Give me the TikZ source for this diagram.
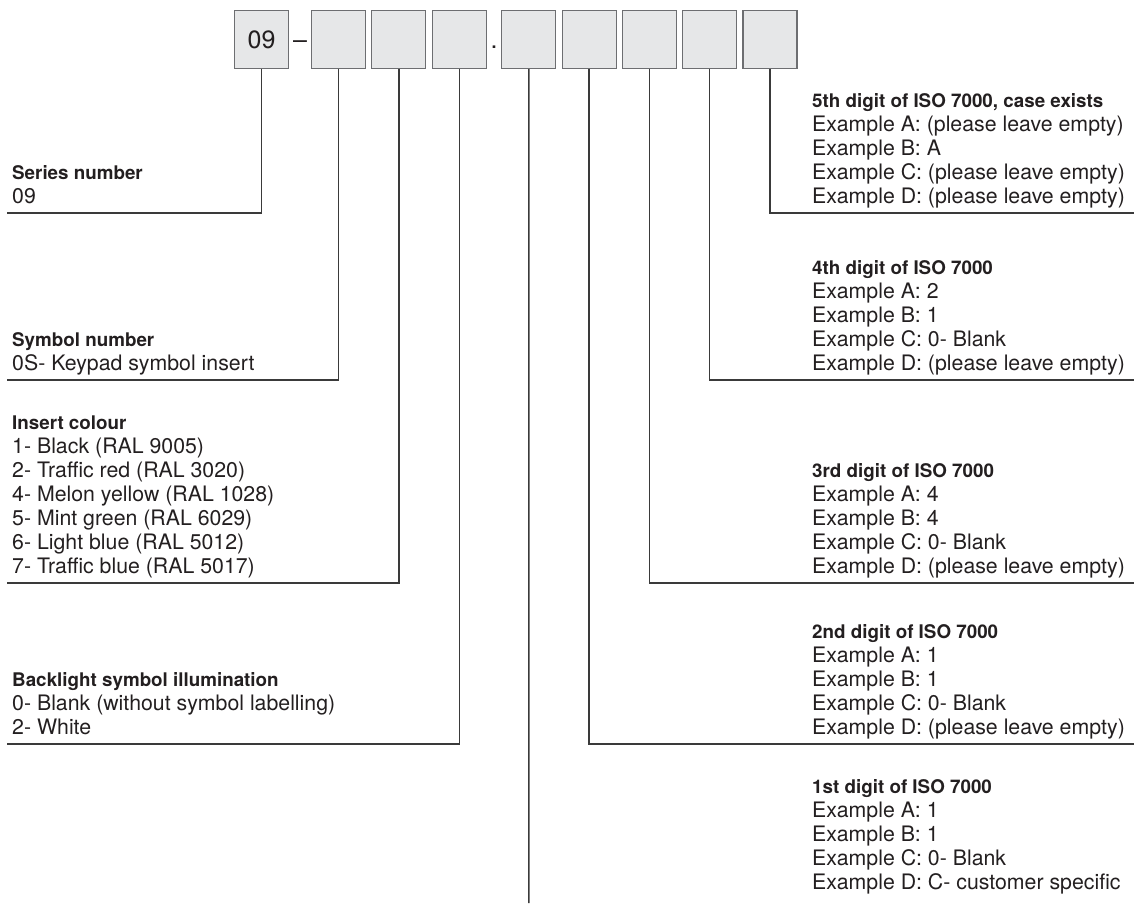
\documentclass[tikz,border=0pt]{standalone}
\usepackage{fontspec}
\setmainfont{TeX Gyre Heros}
\usepackage{tikz}
\usetikzlibrary{positioning}
\definecolor{ink}{HTML}{231F20}
\definecolor{wiregray}{HTML}{3A3A3A}
\definecolor{boxfill}{HTML}{E6E7E8}
\definecolor{boxline}{HTML}{6D6E71}
\newcommand{\hdr}{\fontsize{18.8}{24}\selectfont\bfseries}
\tikzstyle{digit} = [rectangle, minimum width=54pt, minimum height=58pt, inner sep=0pt, draw=boxline, fill=boxfill, line width=1.1pt, text=ink, font=\fontsize{25}{25}\selectfont]
\tikzstyle{joiner} = [anchor=base, inner sep=0pt, text=ink, font=\fontsize{25}{25}\selectfont]
\tikzstyle{info} = [anchor=base west, align=left, inner sep=0pt, text=ink, font=\fontsize{21.3}{24}\selectfont]
\tikzstyle{wire} = [draw=wiregray, line width=1.4pt]

\begin{document}
\begin{tikzpicture}[x=1pt, y=-1pt, node distance=60.3pt]
    \useasboundingbox (0,0) rectangle (1141,903);

    \node (b1) [digit] at (261.5,39.5) {09};
    \node (b2) [digit, right of=b1, xshift=16.8pt] {};
    \node (b3) [digit, right of=b2] {};
    \node (b4) [digit, right of=b3] {};
    \node (b5) [digit, right of=b4, xshift=9.3pt] {};
    \node (b6) [digit, right of=b5] {};
    \node (b7) [digit, right of=b6] {};
    \node (b8) [digit, right of=b7] {};
    \node (b9) [digit, right of=b8] {};
    \node (dash) [joiner] at (300,48.5) {–};
    \node (dot)  [joiner] at (494,48.5) {.};

    \node (series) [info] at (12,203) {{\hdr Series number}\\09};
    \node (symbol) [info] at (12,370) {{\hdr Symbol number}\\0S- Keypad symbol insert};
    \node (colour) [info] at (12,573) {{\hdr Insert colour}\\1- Black (RAL 9005)\\2- Traffic red (RAL 3020)\\4- Melon yellow (RAL 1028)\\5- Mint green (RAL 6029)\\6- Light blue (RAL 5012)\\7- Traffic blue (RAL 5017)};
    \node (light)  [info] at (12,734) {{\hdr Backlight symbol illumination}\\0- Blank (without symbol labelling)\\2- White};

    \node (fifth)  [info] at (812,203) {{\hdr 5th digit of ISO 7000, case exists}\\Example A: (please leave empty)\\Example B: A\\Example C: (please leave empty)\\Example D: (please leave empty)};
    \node (fourth) [info] at (812,370) {{\hdr 4th digit of ISO 7000}\\Example A: 2\\Example B: 1\\Example C: 0- Blank\\Example D: (please leave empty)};
    \node (third)  [info] at (812,573) {{\hdr 3rd digit of ISO 7000}\\Example A: 4\\Example B: 4\\Example C: 0- Blank\\Example D: (please leave empty)};
    \node (second) [info] at (812,734) {{\hdr 2nd digit of ISO 7000}\\Example A: 1\\Example B: 1\\Example C: 0- Blank\\Example D: (please leave empty)};
    \node (first)  [info] at (812,889) {{\hdr 1st digit of ISO 7000}\\Example A: 1\\Example B: 1\\Example C: 0- Blank\\Example D: C- customer specific};

    \coordinate (e1) at (7,213);
    \coordinate (e2) at (7,380);
    \coordinate (e3) at (7,583);
    \coordinate (e4) at (7,744);
    \coordinate (f1) at (528.8,903);
    \coordinate (f2) at (1134,744);
    \coordinate (f3) at (1134,583);
    \coordinate (f4) at (1134,380);
    \coordinate (f5) at (1134,213);

    \draw [wire] (b1.south) |- (e1);
    \draw [wire] (b2.south) |- (e2);
    \draw [wire] (b3.south) |- (e3);
    \draw [wire] (b4.south) |- (e4);
    \draw [wire] (b5.south) -- (f1);
    \draw [wire] (b6.south) |- (f2);
    \draw [wire] (b7.south) |- (f3);
    \draw [wire] (b8.south) |- (f4);
    \draw [wire] (b9.south) |- (f5);
\end{tikzpicture}
\end{document}
